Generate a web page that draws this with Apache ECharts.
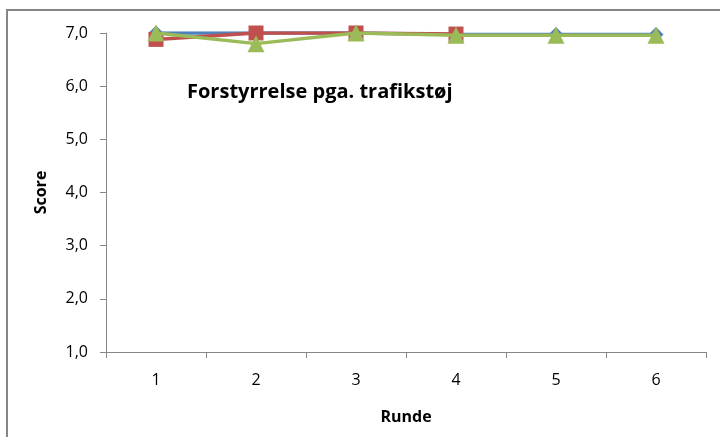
<!DOCTYPE html>
<html>
<head>
<meta charset="utf-8">
<script src="https://cdn.jsdelivr.net/npm/echarts@6/dist/echarts.min.js"></script>
<style>
  html, body { margin: 0; padding: 0; background: #fff; }
  #chart { width: 720px; height: 437px; }
</style>
</head>
<body>
<div id="chart"></div>
<script>
// Rounds (x categories) and score per series
const rounds = ['1', '2', '3', '4', '5', '6'];
const seriesBlue = [7.0, 7.0, 7.0, 6.97, 6.97, 6.97];
const seriesRed = [6.88, 7.0, 7.0, 6.98, null, null];
const seriesGreen = [7.0, 6.8, 7.0, 6.96, 6.96, 6.96];
const yMin = 1, yMax = 7, yStep = 1;

const chartTitle = 'Forstyrrelse pga. trafikstøj';
const xName = 'Runde';
const yName = 'Score';

const FONT = '"Open Sans", Lato, sans-serif';
const axisGray = '#868686';

const chart = echarts.init(document.getElementById('chart'), null, { renderer: 'canvas' });

function lineSeries(data, color, symbol, size, z) {
  return {
    type: 'line',
    data: data,
    symbol: symbol,
    symbolSize: size,
    showSymbol: true,
    connectNulls: false,
    z: z,
    lineStyle: { color: color, width: 3.5 },
    itemStyle: { color: color, borderWidth: 0 },
    emphasis: { disabled: true },
    animation: false
  };
}

chart.setOption({
  animation: false,
  backgroundColor: '#ffffff',
  grid: { left: 106, right: 14, top: 33, bottom: 85, containLabel: false },
  graphic: [
    {
      type: 'rect',
      shape: { x: 7, y: 10, width: 760, height: 480 },
      style: { fill: 'none', stroke: axisGray, lineWidth: 2 },
      silent: true
    },
    {
      type: 'text',
      left: 187,
      top: 82,
      style: { text: chartTitle, font: 'bold 20px ' + FONT, fill: '#000' }
    }
  ],
  xAxis: {
    type: 'category',
    data: rounds,
    boundaryGap: true,
    name: xName,
    nameLocation: 'middle',
    nameGap: 57,
    nameTextStyle: { fontFamily: FONT, fontWeight: 'bold', fontSize: 16, color: '#000' },
    axisLine: { show: true, lineStyle: { color: axisGray, width: 1 } },
    axisTick: { show: true, alignWithLabel: false, length: 6, lineStyle: { color: axisGray } },
    axisLabel: { margin: 20, fontFamily: FONT, fontSize: 16, color: '#000' },
    splitLine: { show: false }
  },
  yAxis: {
    type: 'value',
    min: yMin,
    max: yMax,
    interval: yStep,
    name: yName,
    nameLocation: 'middle',
    nameRotate: 90,
    nameGap: 57,
    nameTextStyle: { fontFamily: FONT, fontWeight: 'bold', fontSize: 16, color: '#000' },
    axisLine: { show: true, lineStyle: { color: axisGray, width: 1 } },
    axisTick: { show: true, length: 6, lineStyle: { color: axisGray } },
    axisLabel: {
      margin: 18,
      fontFamily: FONT,
      fontSize: 16,
      color: '#000',
      formatter: v => v.toFixed(1).replace('.', ',')
    },
    splitLine: { show: false }
  },
  series: [
    lineSeries(seriesBlue, '#4F81BD', 'diamond', 15, 2),
    lineSeries(seriesRed, '#C0504D', 'rect', 15, 3),
    lineSeries(seriesGreen, '#9BBB59', 'triangle', 17, 4)
  ]
});
</script>
</body>
</html>
